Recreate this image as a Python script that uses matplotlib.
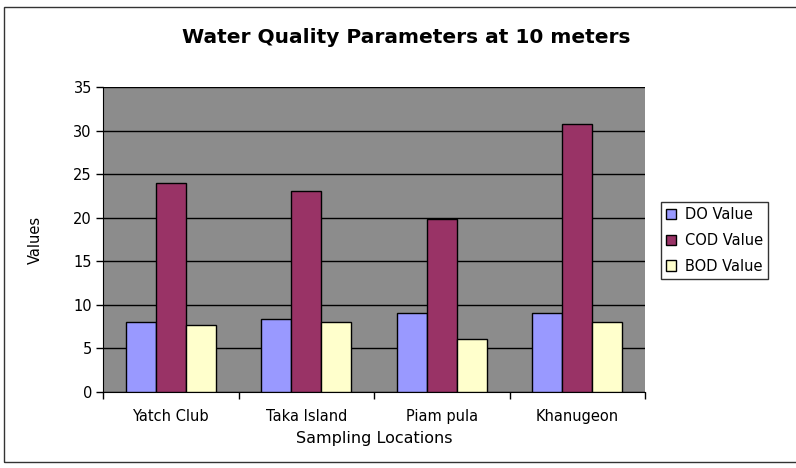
import matplotlib
matplotlib.use("Agg")
import matplotlib.pyplot as plt
import numpy as np
from matplotlib.patches import Rectangle

locations = ["Yatch Club", "Taka Island", "Piam pula", "Khanugeon"]
do_values = [8.0, 8.4, 9.1, 9.1]
cod_values = [24.0, 23.1, 19.9, 30.8]
bod_values = [7.7, 8.0, 6.1, 8.0]
series_names = ["DO Value", "COD Value", "BOD Value"]
y_ticks = [0, 5, 10, 15, 20, 25, 30, 35]

plt.rcParams['font.family'] = ['DejaVu Sans']

fig = plt.figure(figsize=(7.96, 4.68), dpi=100)
fig.patch.set_facecolor('white')
fig.add_artist(Rectangle((0.005, 0.012), 1.2, 0.972, transform=fig.transFigure,
                         fill=False, edgecolor='#333333', linewidth=1.0))

ax = fig.add_axes([0.1294, 0.1624, 0.681, 0.6517])
ax.set_facecolor('#8C8C8C')

x = np.arange(len(locations))
w = 0.222
colors = ['#9999FF', '#993366', '#FFFFCC']
series = [do_values, cod_values, bod_values]
for i, (vals, c, name) in enumerate(zip(series, colors, series_names)):
    ax.bar(x + (i - 1) * w, vals, width=w, color=c, edgecolor='black',
           linewidth=1.0, label=name, zorder=3)

ax.set_ylim(0, 35)
ax.set_xlim(-0.5, len(locations) - 0.5)
ax.set_yticks(y_ticks)
ax.yaxis.grid(True, color='black', linewidth=1.0, zorder=1)
ax.set_axisbelow(True)

ax.set_xticks(x)
ax.set_xticklabels(locations, fontsize=10.5)
ax.set_xticks(np.arange(len(locations) + 1) - 0.5, minor=True)
ax.tick_params(axis='x', which='major', length=0, pad=12)
ax.tick_params(axis='x', which='minor', length=5, width=1, direction='out', color='black')
ax.tick_params(axis='y', length=5, width=1, direction='out', labelsize=10.5, pad=3)

for side in ['top', 'right']:
    ax.spines[side].set_visible(False)
ax.spines['left'].set_color('black')
ax.spines['bottom'].set_color('black')

ax.set_xlabel("Sampling Locations", fontsize=11.5, labelpad=5)
ax.set_ylabel("Values", fontsize=10.5, labelpad=22)

fig.text(0.51, 0.919, "Water Quality Parameters at 10 meters", ha='center', va='center',
         fontsize=14.5, fontweight='bold')

leg = fig.legend(loc='upper left', bbox_to_anchor=(0.830, 0.569), fontsize=10.5,
                 frameon=True, fancybox=False, edgecolor='black', handlelength=0.7,
                 handleheight=0.7, handletextpad=0.6, labelspacing=0.75,
                 borderpad=0.35, borderaxespad=0)
leg.get_frame().set_linewidth(1.0)

fig.savefig("out.png", dpi=100)
